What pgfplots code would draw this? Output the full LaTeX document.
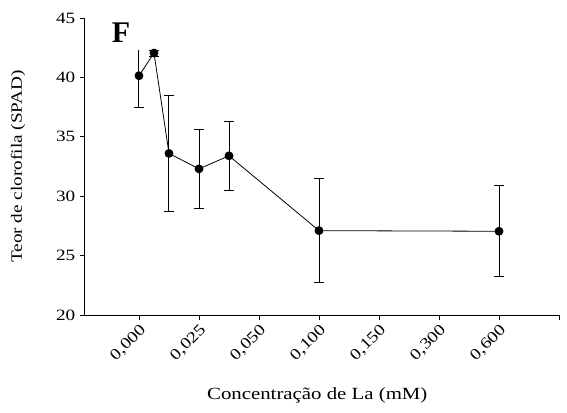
\documentclass[border=0pt]{standalone}
\usepackage{fontspec}
\setmainfont{Liberation Serif}[FakeStretch=1.22]
\newfontfamily\plainserif{Liberation Serif}
\usepackage{pgfplots}
\pgfplotsset{compat=1.18}

\pgfplotstableread{
x     y      e
0     40.14  2.66
0.25  42.05  0.25
0.5   33.60  4.85
1     32.30  3.30
1.5   33.40  2.90
3     27.10  4.35
6     27.05  3.85
}\spadtable

\begin{document}
\begin{tikzpicture}
\useasboundingbox (-63.75pt,-72.75pt) rectangle (361.5pt,236.25pt);
\begin{axis}[
  at={(0,0)}, anchor=south west,
  scale only axis, width=355.5pt, height=222.75pt,
  xmin=-0.9, xmax=7, ymin=20, ymax=45,
  axis x line*=bottom, axis y line*=left,
  axis line style={-, black, line width=0.75pt},
  tick align=outside, tick pos=left,
  major tick length=3.75pt,
  tick style={black, line width=0.7pt},
  xtick={0,1,2,3,4,5,6,7},
  xticklabels={{0,000},{0,025},{0,050},{0,100},{0,150},{0,300},{0,600},{}},
  ytick={20,25,30,35,40,45},
  /pgf/number format/assume math mode=true,
  tick label style={font=\fontsize{11.8}{13}\selectfont},
  x tick label style={rotate=45, anchor=north east, inner sep=1.5pt},
  xlabel={Concentração de La (mM)},
  ylabel={Teor de clorofila (SPAD)},
  xlabel style={font=\fontsize{12.8}{14}\selectfont, at={(axis description cs:0.49,-0.286)}, anchor=base},
  ylabel style={font=\fontsize{11.8}{13}\selectfont, at={(axis description cs:-0.1414,0.5)}, anchor=center, rotate=0},
  clip=false,
]
\addplot[black, line width=0.6pt, mark=*, mark size=3pt, mark options={solid, fill=black},
  error bars/.cd, y dir=both, y explicit,
  error bar style={line width=0.75pt, black},
  error mark options={rotate=90, mark size=3.75pt, line width=0.75pt, black}]
  table[x=x, y=y, y error=e] {\spadtable};
\node[font=\plainserif\bfseries\fontsize{22.5}{24}\selectfont, fill=white,
  inner xsep=11pt, inner ysep=6pt, anchor=base] at (axis cs:-0.3,42.98) {F};
\end{axis}
\end{tikzpicture}
\end{document}
